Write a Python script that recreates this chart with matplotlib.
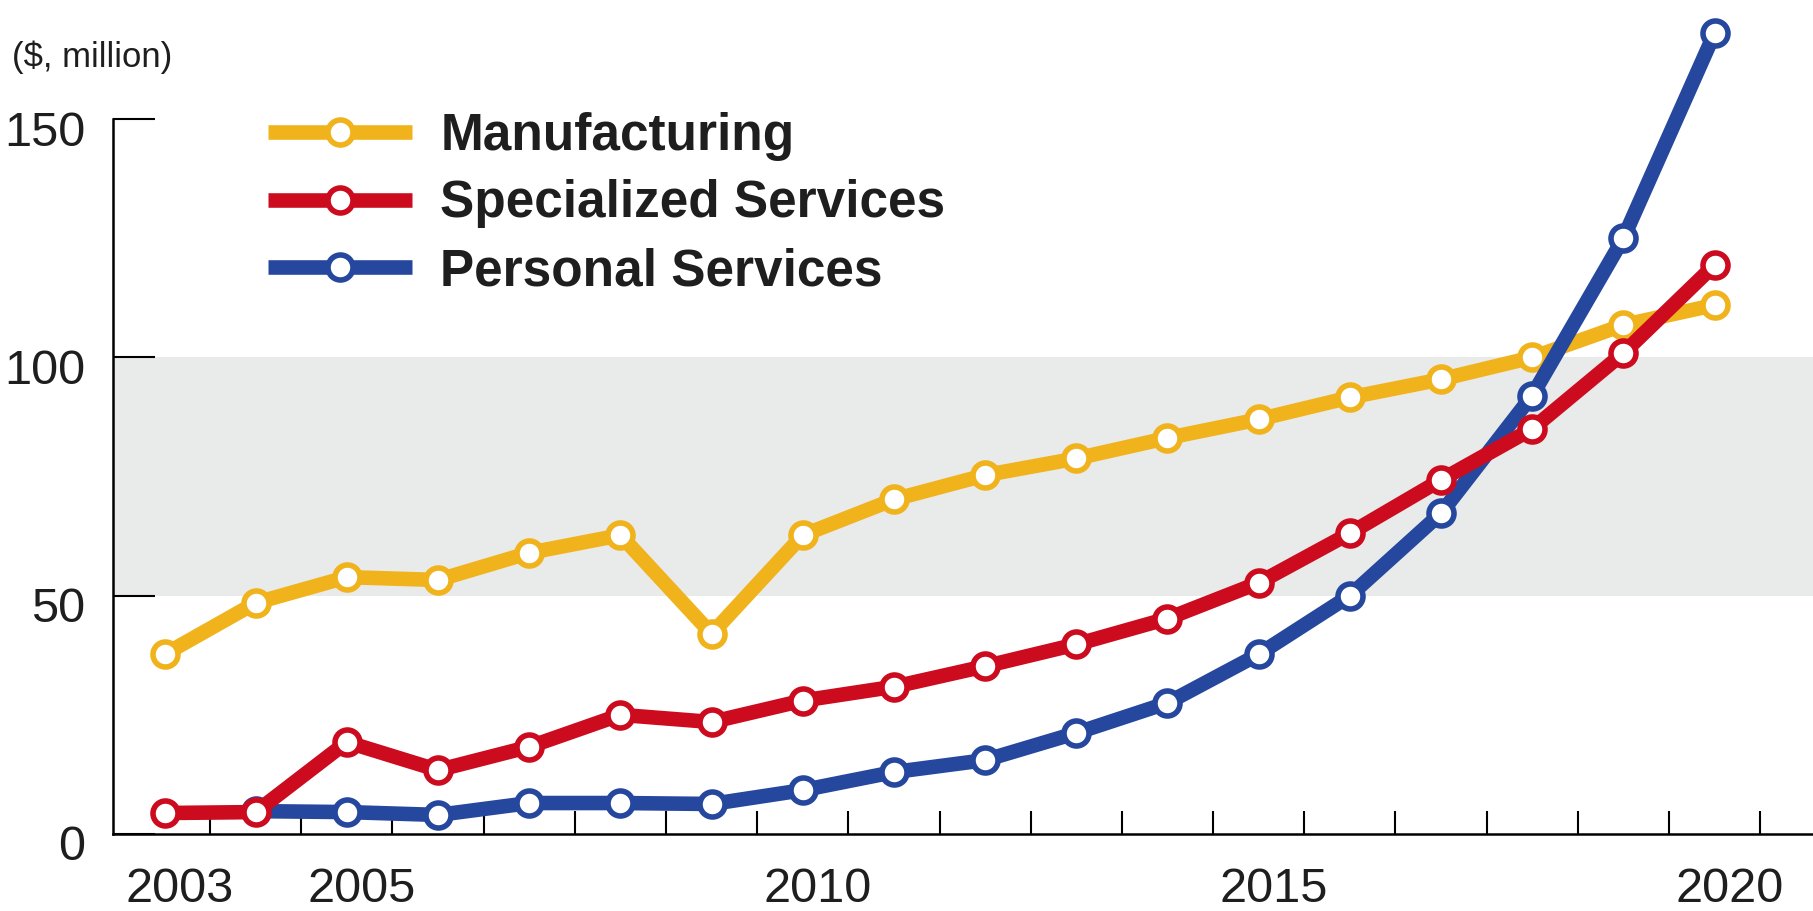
import matplotlib
matplotlib.use("Agg")
import matplotlib.pyplot as plt
from matplotlib import font_manager
from matplotlib.lines import Line2D
from matplotlib.transforms import ScaledTranslation

# revenue by sector, $ million
years = list(range(2003, 2021))
manufacturing = [37.7, 48.5, 53.9, 53.3, 59.0, 62.7, 42.0, 62.7, 70.2, 75.3,
                 78.8, 83.1, 87.0, 91.6, 95.4, 100.0, 106.8, 111.0]
specialized = [4.4, 4.6, 19.3, 13.4, 18.3, 25.0, 23.5, 28.0, 30.9, 35.2,
               39.8, 45.2, 52.7, 63.1, 74.3, 85.0, 100.9, 119.4]
personal_years = list(range(2004, 2021))
personal = [4.8, 4.6, 4.0, 6.5, 6.5, 6.3, 9.2, 13.0, 15.5, 21.2,
            27.5, 37.7, 50.0, 67.3, 92.0, 125.0, 168.0]

series_names = ["Manufacturing", "Specialized Services", "Personal Services"]
label_years = [2003, 2005, 2010, 2015, 2020]
y_ticks = [0, 50, 100, 150]

YELLOW = "#F1B31C"
RED = "#CC0B1F"
BLUE = "#26479E"
INK = "#1e1e1e"

# narrow face for the axis text if one is around
installed = {f.name for f in font_manager.fontManager.ttflist}
if "Liberation Sans Narrow" in installed:
    narrow, tick_size, unit_size = "Liberation Sans Narrow", 38, 28
else:
    narrow, tick_size, unit_size = "Liberation Sans", 35, 25
plt.rcParams["font.family"] = ["Liberation Sans", "DejaVu Sans"]

W, H, DPI = 1813, 911, 100
fig = plt.figure(figsize=(W / DPI, H / DPI), dpi=DPI)
ax = fig.add_axes([113 / W, 77 / H, 1700 / W, 834 / H])

ax.set_xlim(2002.435, 2021.08)
ax.set_ylim(0, 175)

# shaded 50-100 band
ax.axhspan(50, 100, color="#e9eaea", zorder=0, lw=0)

line_kw = dict(lw=10.5, marker="o", ms=18, mew=4, mfc="white",
               solid_capstyle="butt", clip_on=False)
ax.plot(years, manufacturing, color=YELLOW, zorder=3, **line_kw)
ax.plot(personal_years, personal, color=BLUE, zorder=4, **line_kw)
ax.plot(years, specialized, color=RED, zorder=5, **line_kw)

for side in ("top", "right"):
    ax.spines[side].set_visible(False)
ax.spines["left"].set_bounds(0, 150)
ax.spines["left"].set_linewidth(1.8)
ax.spines["bottom"].set_linewidth(1.8)

# year boundaries as inward ticks, year labels on minor ticks
ax.set_xticks([y + 0.5 for y in years])
ax.set_xticklabels([])
ax.tick_params(axis="x", which="major", direction="in", length=16.5, width=1.5)
ax.set_xticks(label_years, [str(y) for y in label_years], minor=True)
ax.tick_params(axis="x", which="minor", length=0, pad=24,
               labelsize=tick_size, labelcolor=INK)

ax.set_yticks(y_ticks, [str(v) for v in y_ticks])
ax.tick_params(axis="y", direction="in", length=30, width=1.5, pad=20,
               labelsize=tick_size, labelcolor=INK)

for lab in ax.get_xticklabels(minor=True):
    lab.set_family(narrow)
    lab.set_transform(lab.get_transform() + ScaledTranslation(0.15, 0, fig.dpi_scale_trans))
for lab in ax.get_yticklabels():
    lab.set_family(narrow)
    lab.set_transform(lab.get_transform() + ScaledTranslation(0, -0.09, fig.dpi_scale_trans))

fig.text(12 / W, 1 - 57 / H, "($, million)", family=narrow, fontsize=unit_size,
         color=INK, va="center", ha="left")

handles = [Line2D([], [], color=c, **line_kw) for c in (YELLOW, RED, BLUE)]
ax.legend(handles, series_names, loc="upper left",
          bbox_to_anchor=(268 / W, 1 - 112 / H), bbox_transform=fig.transFigure,
          frameon=False, numpoints=1, handlelength=2.8, handletextpad=0.55,
          labelspacing=0.36, borderpad=0, borderaxespad=0,
          prop=dict(weight="bold", size=37), labelcolor=INK)

fig.savefig("out.png", dpi=DPI)
